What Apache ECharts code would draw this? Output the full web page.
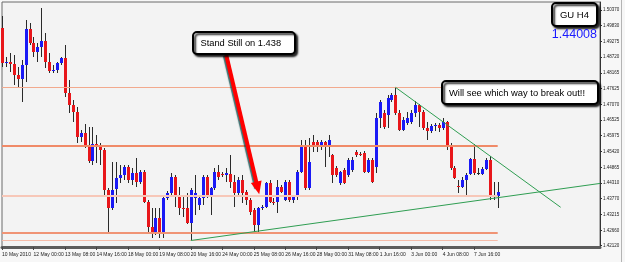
<!DOCTYPE html>
<html>
<head>
<meta charset="utf-8">
<script src="https://cdn.jsdelivr.net/npm/echarts@6/dist/echarts.min.js"></script>
<style>
  html, body { margin: 0; padding: 0; background: #f7f7f7; }
  #chart { width: 625px; height: 262px; }
</style>
</head>
<body>
<div id="chart"></div>
<script>
// GBPUSD H4, 10 May - 8 Jun 2010
const tradingDays = ['10 May', '11 May', '12 May', '13 May', '14 May', '17 May', '18 May', '19 May', '20 May', '21 May',
  '24 May', '25 May', '26 May', '27 May', '28 May', '31 May', '1 Jun', '2 Jun', '3 Jun', '4 Jun', '7 Jun', '8 Jun',
  '9 Jun', '10 Jun', '11 Jun', '14 Jun', '15 Jun']
const barHours = ['00:00', '04:00', '08:00', '12:00', '16:00', '20:00']
const firstLabel = '10 May 2010'

const openVals = [
  1.4974, 1.48515, 1.4855, 1.4848, 1.48095, 1.47955, 1.48445, 1.49705, 1.49215, 1.489,
  1.49075, 1.49285, 1.4855, 1.48235, 1.4827, 1.48515, 1.4869, 1.47465, 1.47045, 1.468,
  1.45925, 1.46065, 1.4561, 1.45085, 1.4568, 1.45575, 1.4547, 1.4407, 1.4344, 1.44105,
  1.4449, 1.44595, 1.44875, 1.4442, 1.44665, 1.4435, 1.447, 1.4365, 1.42775, 1.42565,
  1.4309, 1.42565, 1.4379, 1.43965, 1.44525, 1.43895, 1.4344, 1.4344, 1.42915, 1.4379,
  1.43545, 1.4379, 1.44525, 1.43825, 1.4414, 1.447, 1.4463, 1.44595, 1.4463, 1.4435,
  1.43965, 1.4442, 1.44, 1.4372, 1.4337, 1.42845, 1.4344, 1.43475, 1.44315, 1.4365,
  1.4365, 1.44175, 1.4372, 1.4435, 1.4372, 1.43825, 1.447, 1.45575, 1.4414, 1.4575,
  1.4575, 1.45575, 1.4575, 1.45575, 1.45295, 1.4484, 1.44315, 1.4477, 1.44595, 1.4477,
  1.454, 1.4533, 1.45365, 1.447, 1.4512, 1.44875, 1.4659, 1.46765, 1.46695, 1.4722,
  1.47395, 1.46765, 1.4617, 1.46415, 1.4645, 1.46765, 1.4703, 1.468, 1.4624, 1.46135,
  1.4631, 1.46345, 1.4624, 1.4645, 1.45645, 1.4484, 1.4421, 1.44175, 1.4442, 1.4463,
  1.45155, 1.44665, 1.4463, 1.44805, 1.4512, 1.43895, 1.4386
]
const closeVals = [
  1.48515, 1.4855, 1.4848, 1.48095, 1.47955, 1.48445, 1.49705, 1.49215, 1.489, 1.49075,
  1.49285, 1.4855, 1.48235, 1.4827, 1.48515, 1.4869, 1.47465, 1.47045, 1.468, 1.45925,
  1.46065, 1.4561, 1.45085, 1.4568, 1.45575, 1.4547, 1.4407, 1.4344, 1.4407, 1.4449,
  1.44595, 1.44875, 1.4442, 1.44665, 1.4435, 1.447, 1.4365, 1.42775, 1.42565, 1.4309,
  1.42565, 1.4379, 1.43965, 1.44525, 1.43895, 1.4344, 1.4342, 1.42915, 1.4407, 1.43965,
  1.4379, 1.44525, 1.43825, 1.4414, 1.447, 1.44525, 1.4461, 1.44665, 1.4435, 1.43965,
  1.4442, 1.43965, 1.4372, 1.433, 1.42845, 1.4344, 1.43475, 1.44315, 1.4365, 1.43615,
  1.44175, 1.44, 1.4435, 1.4372, 1.43825, 1.447, 1.45575, 1.4414, 1.4505, 1.45575,
  1.45575, 1.4575, 1.45575, 1.4582, 1.44595, 1.44595, 1.447, 1.44315, 1.4512, 1.4512,
  1.45295, 1.4531, 1.447, 1.4512, 1.4435, 1.4659, 1.4715, 1.46275, 1.4729, 1.47395,
  1.46765, 1.4617, 1.4652, 1.4659, 1.46765, 1.4703, 1.468, 1.4624, 1.46135, 1.4631,
  1.46345, 1.4624, 1.4645, 1.45645, 1.4484, 1.4449, 1.4419, 1.4442, 1.44595, 1.45155,
  1.44665, 1.4468, 1.44805, 1.4512, 1.43895, 1.4386, 1.44008
]
const lowVals = [
  1.48375, 1.48375, 1.482, 1.47745, 1.4764, 1.4715, 1.4785, 1.49145, 1.48725, 1.4855,
  1.48725, 1.4834, 1.48165, 1.48165, 1.48165, 1.48445, 1.47325, 1.46765, 1.4645, 1.45715,
  1.4575, 1.4554, 1.45015, 1.44945, 1.45015, 1.44945, 1.43825, 1.426, 1.4337, 1.43615,
  1.44315, 1.4442, 1.44315, 1.44245, 1.44175, 1.4428, 1.43615, 1.42565, 1.4239, 1.42495,
  1.4239, 1.4239, 1.4372, 1.43895, 1.43475, 1.43195, 1.43125, 1.4288, 1.42303, 1.43195,
  1.4337, 1.43545, 1.4379, 1.43195, 1.4407, 1.4442, 1.44525, 1.4435, 1.4414, 1.43475,
  1.43825, 1.43615, 1.43545, 1.43195, 1.426, 1.426, 1.4337, 1.4344, 1.43615, 1.43545,
  1.43265, 1.43965, 1.43685, 1.4365, 1.43615, 1.4372, 1.44665, 1.4407, 1.4407, 1.454,
  1.454, 1.4547, 1.44875, 1.45225, 1.44315, 1.44525, 1.44245, 1.4428, 1.44525, 1.447,
  1.45225, 1.4526, 1.44665, 1.44665, 1.44315, 1.44665, 1.4624, 1.46205, 1.4624, 1.4715,
  1.46695, 1.46135, 1.46135, 1.46345, 1.4638, 1.46625, 1.46275, 1.4617, 1.4582, 1.46065,
  1.46135, 1.461, 1.4617, 1.4547, 1.4477, 1.44455, 1.43965, 1.4414, 1.43895, 1.44595,
  1.44595, 1.44595, 1.44595, 1.4477, 1.4372, 1.4372, 1.4344
]
const highVals = [
  1.5016, 1.48725, 1.48865, 1.48795, 1.48375, 1.4862, 1.5002, 1.49915, 1.49425, 1.49215,
  1.5044, 1.49565, 1.48865, 1.48445, 1.4855, 1.48725, 1.49145, 1.4792, 1.4722, 1.46975,
  1.4617, 1.4638, 1.46275, 1.46275, 1.45995, 1.45715, 1.4554, 1.4414, 1.4505, 1.4505,
  1.44945, 1.44945, 1.44945, 1.4484, 1.4519, 1.4477, 1.4477, 1.4372, 1.4344, 1.4344,
  1.4344, 1.4386, 1.44035, 1.44665, 1.44595, 1.44175, 1.43825, 1.43965, 1.4414, 1.44595,
  1.43895, 1.44595, 1.44595, 1.44175, 1.4484, 1.44945, 1.447, 1.4484, 1.45295, 1.44595,
  1.44525, 1.44595, 1.4407, 1.4379, 1.4344, 1.43475, 1.43545, 1.4435, 1.4442, 1.4379,
  1.4442, 1.44245, 1.4442, 1.4442, 1.43895, 1.4477, 1.4582, 1.4582, 1.4589, 1.45995,
  1.4582, 1.4582, 1.45785, 1.45995, 1.4533, 1.4491, 1.44735, 1.4484, 1.4519, 1.45225,
  1.4547, 1.454, 1.45435, 1.4519, 1.4519, 1.46765, 1.4722, 1.4687, 1.47395, 1.47465,
  1.47665, 1.4687, 1.46625, 1.468, 1.4687, 1.47168, 1.47066, 1.4687, 1.4645, 1.4638,
  1.46415, 1.46415, 1.4659, 1.46485, 1.45715, 1.4491, 1.4442, 1.44525, 1.44665, 1.4519,
  1.4568, 1.4484, 1.44875, 1.4519, 1.45274, 1.4435, 1.4435
]

const priceTicks = [1.4212, 1.4266, 1.43215, 1.4377, 1.4431, 1.44865, 1.4542, 1.45975,
  1.46525, 1.4707, 1.47625, 1.48165, 1.4872, 1.49275, 1.4983, 1.5037]
const lastPrice = 1.44008

// support / resistance levels drawn on the chart
const levelPrices = [1.47665, 1.4562, 1.4386, 1.42576, 1.42296]
const levelEnds = [120, 126, 126, 126, 126]
const trendUp = [[48, 1.42303], [152, 1.443]]
const trendDown = [[100, 1.47665], [142, 1.43465]]
const arrowFrom = [57, 1.48795]
const arrowTo = [65, 1.4414]

const slotCount = 153
const categories = []
tradingDays.forEach(d => barHours.forEach(h => categories.push(d + ' ' + h)))
categories.splice(0, 4) // first bar is 10 May 16:00
categories.length = slotCount

const candles = openVals.map((o, i) => [i, o, closeVals[i], lowVals[i], highVals[i]])

const levelLook = [
  { color: '#f2a98d', width: 1 },
  { color: '#f08a68', width: 2 },
  { color: '#f7c7b8', width: 2 },
  { color: '#f09475', width: 2 },
  { color: '#f5bba8', width: 1 },
]
const green = '#2f9e52'
const font = 'Liberation Sans, Arial, sans-serif'

function renderCandle(params, api) {
  const i = api.value(0)
  const o = api.value(1)
  const c = api.value(2)
  const pO = api.coord([i, o])
  const pC = api.coord([i, c])
  const pL = api.coord([i, api.value(3)])
  const pH = api.coord([i, api.value(4)])
  const x = Math.round(pO[0])
  const top = Math.round(Math.min(pO[1], pC[1]))
  const bot = Math.round(Math.max(pO[1], pC[1]))
  const doji = bot - top < 1
  return {
    type: 'group',
    children: [
      {
        type: 'line',
        shape: { x1: x + 0.5, y1: Math.round(pH[1]), x2: x + 0.5, y2: Math.round(pL[1]) },
        style: { stroke: '#2a2a2a', lineWidth: 1 },
      },
      {
        type: 'rect',
        shape: { x: x - 1, y: top, width: 3, height: Math.max(bot - top, 1) },
        style: { fill: doji ? '#2a2a2a' : (c > o ? '#1a1af5' : '#e8161a') },
      },
    ],
  }
}

const markLines = levelPrices.map((p, k) => [
  { coord: [0, p], lineStyle: { color: levelLook[k].color, width: levelLook[k].width, type: 'solid' } },
  { coord: [levelEnds[k], p] },
])
markLines.push([
  { coord: trendUp[0], lineStyle: { color: green, width: 1, type: 'solid' } },
  { coord: trendUp[1] },
])
markLines.push([
  { coord: trendDown[0], lineStyle: { color: green, width: 1, type: 'solid' } },
  { coord: trendDown[1] },
])
markLines.push([
  {
    coord: arrowFrom,
    symbol: 'none',
    lineStyle: {
      color: '#ff0000', width: 4, type: 'solid',
      shadowColor: 'rgba(0,70,70,0.75)', shadowBlur: 1, shadowOffsetX: -1.5, shadowOffsetY: 0.5,
    },
  },
  { coord: arrowTo, symbol: 'triangle', symbolSize: [11, 13] },
])
markLines.push({
  yAxis: lastPrice,
  lineStyle: { opacity: 0 },
  label: {
    show: true, position: 'end', distance: 1,
    formatter: lastPrice.toFixed(5),
    backgroundColor: '#000', color: '#fff', fontSize: 4.5, fontFamily: font, padding: [1, 1.5],
  },
})

function box(x, y, w, h) {
  return {
    type: 'rect',
    shape: { x: x, y: y, width: w, height: h, r: 4 },
    style: {
      fill: '#ffffff', stroke: '#000', lineWidth: 2,
      shadowColor: 'rgba(0,0,0,0.85)', shadowBlur: 2, shadowOffsetX: 2, shadowOffsetY: 2,
    },
    z: 100,
  }
}
function note(x, y, text, size, color, align) {
  return {
    type: 'text',
    x: x,
    y: y,
    style: {
      text: text, fill: color, fontSize: size, fontFamily: font,
      align: align, verticalAlign: 'middle', textAlign: align, textVerticalAlign: 'middle',
    },
    z: 101,
  }
}

const chart = echarts.init(document.getElementById('chart'), null, { renderer: 'canvas' })
chart.setOption({
  animation: false,
  backgroundColor: '#f7f7f7',
  grid: {
    left: 2, right: 25, top: 2, bottom: 15,
    containLabel: false, outerBoundsMode: 'none',
    show: true, backgroundColor: '#f3f3f3', borderColor: '#6a6a6a', borderWidth: 1,
  },
  xAxis: {
    type: 'category',
    data: categories,
    boundaryGap: false,
    axisLine: { show: true, lineStyle: { color: '#5c5c5c', width: 3 } },
    axisTick: {
      show: true, length: 3, lineStyle: { color: '#444' },
      interval: (idx) => idx % 8 === 0 && idx < openVals.length,
    },
    axisLabel: {
      interval: (idx) => idx % 8 === 0 && idx < openVals.length,
      formatter: (val, idx) => (idx === 0 ? firstLabel : val),
      align: 'left', fontSize: 5, color: '#222', fontFamily: font, margin: 5,
    },
    splitLine: { show: false },
  },
  yAxis: {
    type: 'value',
    position: 'right',
    min: 1.42075,
    max: 1.5065,
    axisLine: { show: true, lineStyle: { color: '#333', width: 1 } },
    axisTick: { show: true, length: 2, customValues: priceTicks, lineStyle: { color: '#333' } },
    axisLabel: {
      customValues: priceTicks,
      formatter: (v) => v.toFixed(5),
      fontSize: 4.5, color: '#222', fontFamily: font, margin: 3,
    },
    splitLine: { show: false },
  },
  series: [
    {
      type: 'custom',
      renderItem: renderCandle,
      data: candles,
      encode: { x: 0, y: [1, 2, 3, 4] },
      markLine: {
        silent: true,
        animation: false,
        symbol: 'none',
        label: { show: false },
        data: markLines,
      },
    },
  ],
  graphic: [
    box(193, 32, 102, 22),
    note(200.5, 43.5, 'Stand Still on 1.438', 9.3, '#000', 'left'),
    box(552, 3, 45, 23),
    note(574.5, 15, 'GU H4', 9.5, '#000', 'center'),
    note(597, 34.5, lastPrice.toFixed(5), 12.5, '#1a1aff', 'right'),
    box(442, 81, 156, 23),
    note(449, 93, 'Will see which way to break out!!', 9.4, '#000', 'left'),
    { type: 'rect', shape: { x: 621, y: 0, width: 1, height: 262 }, style: { fill: '#b4b4b4' } },
  ],
})
</script>
</body>
</html>
